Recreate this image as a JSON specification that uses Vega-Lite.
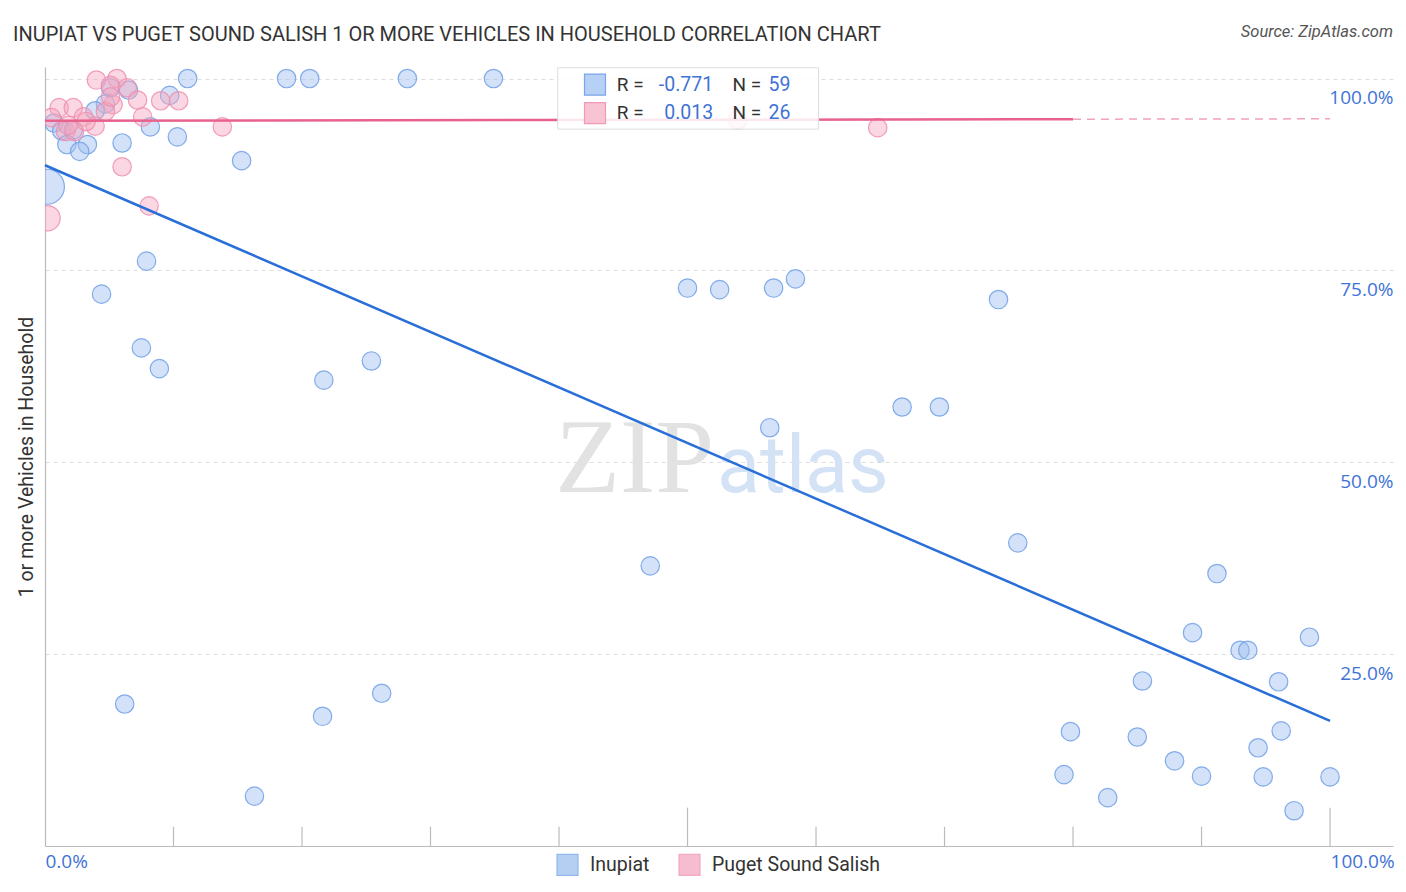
{
"$schema":"https://vega.github.io/schema/vega-lite/v6.json",
"width":1348,"height":779,
"autosize":{"type":"none"},
"padding":{"left":45,"top":67,"right":13,"bottom":46},
"background":"#ffffff",
"title":{"text":"INUPIAT VS PUGET SOUND SALISH 1 OR MORE VEHICLES IN HOUSEHOLD CORRELATION CHART","anchor":"start","frame":"group","dx":-32,"offset":-21,"fontSize":20,"font":"Roboto","fontWeight":"normal","color":"#333333"},
"config":{"view":{"stroke":null},"font":"Roboto"},
"datasets":{
"points":[
{"g":"Inupiat","x":11.1,"y":100,"w":1},{"g":"Inupiat","x":18.8,"y":100,"w":1},{"g":"Inupiat","x":20.6,"y":100,"w":1},{"g":"Inupiat","x":28.2,"y":100,"w":1},{"g":"Inupiat","x":34.9,"y":100,"w":1},
{"g":"Inupiat","x":5.1,"y":98.8,"w":1},{"g":"Inupiat","x":6.5,"y":98.5,"w":1},{"g":"Inupiat","x":9.7,"y":97.8,"w":1},{"g":"Inupiat","x":4.7,"y":96.7,"w":1},{"g":"Inupiat","x":3.9,"y":95.8,"w":1},
{"g":"Inupiat","x":0.7,"y":94.2,"w":1},{"g":"Inupiat","x":1.3,"y":93.2,"w":1},{"g":"Inupiat","x":2.2,"y":93.3,"w":1},{"g":"Inupiat","x":1.7,"y":91.4,"w":1},{"g":"Inupiat","x":3.3,"y":91.4,"w":1},
{"g":"Inupiat","x":2.7,"y":90.5,"w":1},{"g":"Inupiat","x":6.0,"y":91.6,"w":1},{"g":"Inupiat","x":8.2,"y":93.7,"w":1},{"g":"Inupiat","x":10.3,"y":92.4,"w":1},{"g":"Inupiat","x":15.3,"y":89.3,"w":1},
{"g":"Inupiat","x":0.15,"y":85.9,"w":3.4},
{"g":"Inupiat","x":7.9,"y":76.2,"w":1},{"g":"Inupiat","x":4.4,"y":71.9,"w":1},{"g":"Inupiat","x":7.5,"y":64.9,"w":1},{"g":"Inupiat","x":8.9,"y":62.2,"w":1},{"g":"Inupiat","x":21.7,"y":60.7,"w":1},
{"g":"Inupiat","x":25.4,"y":63.2,"w":1},{"g":"Inupiat","x":50.0,"y":72.7,"w":1},{"g":"Inupiat","x":52.5,"y":72.5,"w":1},{"g":"Inupiat","x":56.7,"y":72.7,"w":1},{"g":"Inupiat","x":58.4,"y":73.9,"w":1},
{"g":"Inupiat","x":74.2,"y":71.2,"w":1},{"g":"Inupiat","x":66.7,"y":57.2,"w":1},{"g":"Inupiat","x":69.6,"y":57.2,"w":1},{"g":"Inupiat","x":56.4,"y":54.5,"w":1},
{"g":"Inupiat","x":75.7,"y":39.5,"w":1},{"g":"Inupiat","x":47.1,"y":36.5,"w":1},{"g":"Inupiat","x":91.2,"y":35.5,"w":1},{"g":"Inupiat","x":89.3,"y":27.8,"w":1},{"g":"Inupiat","x":93.0,"y":25.5,"w":1},
{"g":"Inupiat","x":93.6,"y":25.5,"w":1},{"g":"Inupiat","x":98.4,"y":27.2,"w":1},{"g":"Inupiat","x":85.4,"y":21.5,"w":1},{"g":"Inupiat","x":96.0,"y":21.4,"w":1},{"g":"Inupiat","x":6.2,"y":18.5,"w":1},
{"g":"Inupiat","x":21.6,"y":16.9,"w":1},{"g":"Inupiat","x":26.2,"y":19.9,"w":1},{"g":"Inupiat","x":16.3,"y":6.5,"w":1},
{"g":"Inupiat","x":79.8,"y":14.9,"w":1},{"g":"Inupiat","x":85.0,"y":14.2,"w":1},{"g":"Inupiat","x":96.2,"y":15.0,"w":1},{"g":"Inupiat","x":94.4,"y":12.8,"w":1},{"g":"Inupiat","x":79.3,"y":9.3,"w":1},
{"g":"Inupiat","x":87.9,"y":11.1,"w":1},{"g":"Inupiat","x":90.0,"y":9.1,"w":1},{"g":"Inupiat","x":94.8,"y":9.0,"w":1},{"g":"Inupiat","x":100,"y":9.0,"w":1},{"g":"Inupiat","x":82.7,"y":6.3,"w":1},
{"g":"Inupiat","x":97.2,"y":4.6,"w":1},
{"g":"Puget Sound Salish","x":4.0,"y":99.8,"w":1},{"g":"Puget Sound Salish","x":5.6,"y":100,"w":1},{"g":"Puget Sound Salish","x":5.1,"y":99.1,"w":1},{"g":"Puget Sound Salish","x":6.4,"y":98.8,"w":1},
{"g":"Puget Sound Salish","x":7.2,"y":97.2,"w":1},{"g":"Puget Sound Salish","x":9.0,"y":97.1,"w":1},{"g":"Puget Sound Salish","x":10.4,"y":97.1,"w":1},{"g":"Puget Sound Salish","x":5.3,"y":96.6,"w":1},
{"g":"Puget Sound Salish","x":1.1,"y":96.2,"w":1},{"g":"Puget Sound Salish","x":2.2,"y":96.2,"w":1},{"g":"Puget Sound Salish","x":7.6,"y":95.0,"w":1},{"g":"Puget Sound Salish","x":3.0,"y":95.0,"w":1},
{"g":"Puget Sound Salish","x":0.5,"y":94.9,"w":1},{"g":"Puget Sound Salish","x":3.9,"y":93.8,"w":1},{"g":"Puget Sound Salish","x":13.8,"y":93.7,"w":1},{"g":"Puget Sound Salish","x":6.0,"y":88.5,"w":1},
{"g":"Puget Sound Salish","x":8.1,"y":83.4,"w":1},{"g":"Puget Sound Salish","x":0.2,"y":81.8,"w":1.8},{"g":"Puget Sound Salish","x":64.8,"y":93.6,"w":1},{"g":"Puget Sound Salish","x":53.9,"y":94.6,"w":1},
{"g":"Puget Sound Salish","x":1.6,"y":93.1,"w":1},{"g":"Puget Sound Salish","x":2.3,"y":93.1,"w":1},{"g":"Puget Sound Salish","x":3.2,"y":94.4,"w":1},{"g":"Puget Sound Salish","x":4.7,"y":95.7,"w":1},
{"g":"Puget Sound Salish","x":1.8,"y":93.9,"w":1},{"g":"Puget Sound Salish","x":5.1,"y":97.6,"w":1}
],
"fits":[
{"g":"Inupiat","seg":"fit","x":0,"y":88.7},{"g":"Inupiat","seg":"fit","x":100,"y":16.3},
{"g":"Puget Sound Salish","seg":"fit","x":0,"y":94.5},{"g":"Puget Sound Salish","seg":"fit","x":80,"y":94.7},
{"g":"Puget Sound Salish","seg":"ext","x":80,"y":94.7},{"g":"Puget Sound Salish","seg":"ext","x":100,"y":94.75}
],
"ticks":[{"t":10,"k":"short"},{"t":20,"k":"short"},{"t":30,"k":"short"},{"t":40,"k":"short"},{"t":50,"k":"tall"},{"t":60,"k":"short"},{"t":70,"k":"short"},{"t":80,"k":"short"},{"t":90,"k":"short"},{"t":100,"k":"tall"}],
"stats":[{"g":"Inupiat","r":"-0.771","n":"59"},{"g":"Puget Sound Salish","r":"0.013","n":"26"}],
"notes":[{"k":"source","label":"Source: ZipAtlas.com"},{"k":"zip","label":"ZIP"},{"k":"atlas","label":"atlas"}]
},
"layer":[
{"data":{"name":"points"},
 "mark":{"type":"point","filled":true,"clip":true,"fillOpacity":0.45,"strokeOpacity":0.85,"strokeWidth":1.2},
 "encoding":{
  "x":{"field":"x","type":"quantitative","scale":{"domain":[0,104.9],"nice":false,"zero":false},
       "axis":{"values":[0,100],"title":null,"labelAlign":"left","labelFlush":false,"labelExpr":"format(datum.value,'.1f')+'%'","labelFont":"Open Sans","labelFontSize":19,"labelColor":"#3f73d6","labelPadding":6,"labelBaseline":"top","ticks":false,"tickSize":0,"grid":false,"domainColor":"#bbbbbb","domainWidth":1.2}},
  "y":{"field":"y","type":"quantitative","scale":{"domain":[0,101.5],"nice":false,"zero":false},
       "axis":{"orient":"left","values":[25,50,75,100],"title":"1 or more Vehicles in Household","titleFontSize":19.5,"titleColor":"#333333","titleFontWeight":"normal","titlePadding":9,"labelAlign":"right","labelPadding":-1348,"labelOffset":19,"labelBaseline":"middle","labelFont":"Open Sans","labelFontSize":19,"labelColor":"#3f73d6","labelExpr":"format(datum.value,'.1f')+'%'","ticks":false,"tickSize":0,"grid":true,"gridColor":"#dddddd","gridDash":[4,4],"gridWidth":1,"domainColor":"#bbbbbb","domainWidth":1.2}},
  "fill":{"field":"g","type":"nominal","scale":{"domain":["Inupiat","Puget Sound Salish"],"range":["#9dbff0","#f4a6bf"]},
          "legend":{"orient":"none","legendX":511,"legendY":786,"direction":"horizontal","title":null,"symbolType":"square","symbolSize":441,"symbolOpacity":0.75,"symbolStrokeWidth":1.2,"labelFontSize":19.5,"labelColor":"#333333","labelLimit":400,"columnPadding":26,"labelOffset":11,"padding":0}},
  "stroke":{"field":"g","type":"nominal","scale":{"domain":["Inupiat","Puget Sound Salish"],"range":["#6f9fe6","#ee8eae"]},
          "legend":{"orient":"none","legendX":511,"legendY":786,"direction":"horizontal","title":null,"symbolType":"square","symbolSize":441,"symbolOpacity":0.75,"symbolStrokeWidth":1.2,"labelFontSize":19.5,"labelColor":"#333333","labelLimit":400,"columnPadding":26,"labelOffset":11,"padding":0}},
  "size":{"field":"w","type":"quantitative","scale":{"domain":[1,3.4],"range":[340,1225]},"legend":null}
 }},
{"data":{"name":"notes"},"transform":[{"filter":"datum.k=='zip'"}],
 "mark":{"type":"text","align":"left","baseline":"alphabetic","font":"Liberation Serif","fontSize":106,"color":"#e2e2e2"},
 "encoding":{"x":{"datum":39.7},"y":{"datum":46.1},"text":{"field":"label"}}},
{"data":{"name":"notes"},"transform":[{"filter":"datum.k=='atlas'"}],
 "mark":{"type":"text","align":"left","baseline":"alphabetic","font":"Roboto","fontSize":79,"color":"#d4e2f6"},
 "encoding":{"x":{"datum":52.3},"y":{"datum":46.1},"text":{"field":"label"}}},
{"data":{"name":"ticks"},"transform":[{"filter":"datum.k=='short'"}],
 "mark":{"type":"rule","color":"#bbbbbb","strokeWidth":1.2},
 "encoding":{"x":{"field":"t","type":"quantitative"},"y":{"datum":0},"y2":{"datum":2.5}}},
{"data":{"name":"ticks"},"transform":[{"filter":"datum.k=='tall'"}],
 "mark":{"type":"rule","color":"#bbbbbb","strokeWidth":1.2},
 "encoding":{"x":{"field":"t","type":"quantitative"},"y":{"datum":0},"y2":{"datum":5.0}}},
{"data":{"name":"fits"},"transform":[{"filter":"datum.g=='Inupiat'"}],
 "mark":{"type":"line","color":"#2a6fd8","strokeWidth":2.5},
 "encoding":{"x":{"field":"x","type":"quantitative"},"y":{"field":"y","type":"quantitative"}}},
{"data":{"name":"fits"},"transform":[{"filter":"datum.g!='Inupiat' && datum.seg=='fit'"}],
 "mark":{"type":"line","color":"#e8628d","strokeWidth":2.5},
 "encoding":{"x":{"field":"x","type":"quantitative"},"y":{"field":"y","type":"quantitative"}}},
{"data":{"name":"fits"},"transform":[{"filter":"datum.g!='Inupiat' && datum.seg=='ext'"}],
 "mark":{"type":"line","color":"#e8628d","strokeWidth":1.5,"strokeDash":[8,6],"opacity":0.6},
 "encoding":{"x":{"field":"x","type":"quantitative"},"y":{"field":"y","type":"quantitative"}}},
{"data":{"name":"stats"},"transform":[{"filter":"datum.g=='Inupiat'"}],
 "mark":{"type":"rect","fill":"#ffffff","fillOpacity":0.85,"stroke":"#dddddd","strokeWidth":1},
 "encoding":{"x":{"datum":39.9},"x2":{"datum":60.2},"y":{"datum":101.4},"y2":{"datum":93.4}}},
{"data":{"name":"stats"},"transform":[{"filter":"datum.g=='Inupiat'"}],
 "mark":{"type":"point","shape":"square","filled":true,"size":441,"fill":"#b7d0f5","stroke":"#7aa5e8","strokeWidth":1.2,"opacity":1},
 "encoding":{"x":{"datum":42.8},"y":{"datum":99.2}}},
{"data":{"name":"stats"},"transform":[{"filter":"datum.g!='Inupiat'"}],
 "mark":{"type":"point","shape":"square","filled":true,"size":441,"fill":"#f8c3d3","stroke":"#f09ab5","strokeWidth":1.2,"opacity":1},
 "encoding":{"x":{"datum":42.8},"y":{"datum":95.5}}},
{"data":{"name":"stats"},"transform":[{"filter":"datum.g=='Inupiat'"}],
 "mark":{"type":"text","align":"left","baseline":"middle","fontSize":19,"color":"#333333"},
 "encoding":{"x":{"datum":44.5},"y":{"datum":99.2},"text":{"value":"R = "}}},
{"data":{"name":"stats"},"transform":[{"filter":"datum.g!='Inupiat'"}],
 "mark":{"type":"text","align":"left","baseline":"middle","fontSize":19,"color":"#333333"},
 "encoding":{"x":{"datum":44.5},"y":{"datum":95.5},"text":{"value":"R = "}}},
{"data":{"name":"stats"},"transform":[{"filter":"datum.g=='Inupiat'"}],
 "mark":{"type":"text","align":"right","baseline":"middle","fontSize":19.5,"color":"#3f73d6"},
 "encoding":{"x":{"datum":52.0},"y":{"datum":99.2},"text":{"field":"r"}}},
{"data":{"name":"stats"},"transform":[{"filter":"datum.g!='Inupiat'"}],
 "mark":{"type":"text","align":"right","baseline":"middle","fontSize":19.5,"color":"#3f73d6"},
 "encoding":{"x":{"datum":52.0},"y":{"datum":95.5},"text":{"field":"r"}}},
{"data":{"name":"stats"},"transform":[{"filter":"datum.g=='Inupiat'"}],
 "mark":{"type":"text","align":"left","baseline":"middle","fontSize":19,"color":"#333333"},
 "encoding":{"x":{"datum":53.5},"y":{"datum":99.2},"text":{"value":"N = "}}},
{"data":{"name":"stats"},"transform":[{"filter":"datum.g!='Inupiat'"}],
 "mark":{"type":"text","align":"left","baseline":"middle","fontSize":19,"color":"#333333"},
 "encoding":{"x":{"datum":53.5},"y":{"datum":95.5},"text":{"value":"N = "}}},
{"data":{"name":"stats"},"transform":[{"filter":"datum.g=='Inupiat'"}],
 "mark":{"type":"text","align":"left","baseline":"middle","fontSize":19.5,"color":"#3f73d6"},
 "encoding":{"x":{"datum":56.3},"y":{"datum":99.2},"text":{"field":"n"}}},
{"data":{"name":"stats"},"transform":[{"filter":"datum.g!='Inupiat'"}],
 "mark":{"type":"text","align":"left","baseline":"middle","fontSize":19.5,"color":"#3f73d6"},
 "encoding":{"x":{"datum":56.3},"y":{"datum":95.5},"text":{"field":"n"}}},
{"data":{"name":"notes"},"transform":[{"filter":"datum.k=='source'"}],
 "mark":{"type":"text","align":"right","baseline":"middle","fontSize":16.5,"fontStyle":"italic","color":"#555555"},
 "encoding":{"x":{"datum":104.9},"y":{"datum":106.0},"text":{"field":"label"}}}
]
}
